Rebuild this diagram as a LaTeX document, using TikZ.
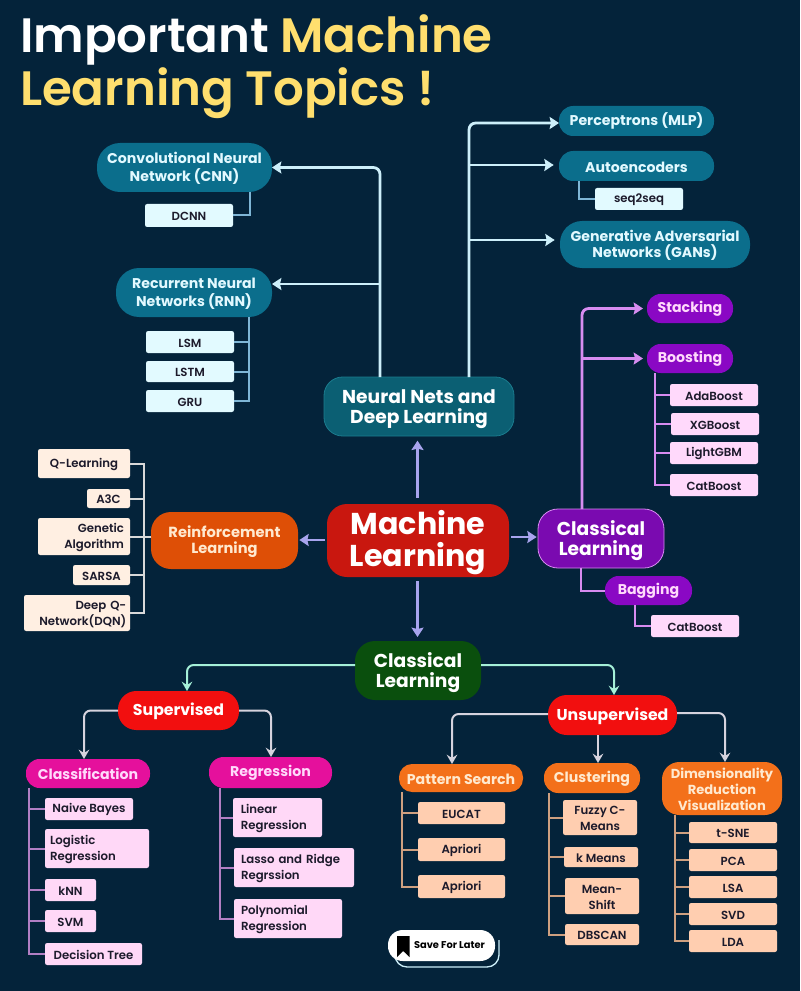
\documentclass[tikz,border=0pt]{standalone}
\usepackage{fontspec}
\setmainfont{Poppins}
\newfontfamily\semib{Poppins SemiBold}
\usetikzlibrary{arrows.meta}
\definecolor{bgc}{HTML}{04233A}
\definecolor{titley}{HTML}{FFDF6E}
\definecolor{tealc}{HTML}{0B6E8C}
\definecolor{tealt}{HTML}{E2F9FF}
\definecolor{lblue}{HTML}{E2FAFF}
\definecolor{lline}{HTML}{CDEFFA}
\definecolor{bline}{HTML}{7FB6D6}
\definecolor{nnc}{HTML}{0B5F73}
\definecolor{nnb}{HTML}{1B7C8E}
\definecolor{purp}{HTML}{8A08C4}
\definecolor{clp}{HTML}{7A0AB0}
\definecolor{purl}{HTML}{FFD9FB}
\definecolor{pline}{HTML}{D78CF0}
\definecolor{mlred}{HTML}{C9170F}
\definecolor{lav}{HTML}{A8A4EE}
\definecolor{rlc}{HTML}{DE4F06}
\definecolor{rlt}{HTML}{FFE9CF}
\definecolor{cream}{HTML}{FFEFE2}
\definecolor{gline}{HTML}{D9D9D9}
\definecolor{grn}{HTML}{0A4F0D}
\definecolor{mint}{HTML}{A5F0D8}
\definecolor{red2}{HTML}{F20F0F}
\definecolor{gl2}{HTML}{D6D3DE}
\definecolor{mag}{HTML}{E5109C}
\definecolor{pink}{HTML}{FFD8F7}
\definecolor{mline}{HTML}{B27FC4}
\definecolor{oran}{HTML}{F3701A}
\definecolor{peach}{HTML}{FFCEB0}
\definecolor{oline}{HTML}{CFA080}
\definecolor{ink}{HTML}{1C1A2B}
\newcommand{\nodelift}{\relax}
\tikzset{
  x=0.75pt,y=-0.75pt,
  lift/.code={\def\nodelift{\rule{0pt}{#1}}},
  base/.style={inner sep=0pt,outer sep=0pt,align=center},
  pill/.style={base,lift=9.3pt,rounded corners=\rr,font=\bfseries\fontsize{10.6}{13.5}\selectfont},
  leaf/.style={base,lift=8pt,rounded corners=1.6pt,text=ink,font=\semib\fontsize{8.8}{12}\selectfont},
  tealpill/.style={pill,fill=tealc,text=tealt},
  bluebox/.style={leaf,fill=lblue},
  purppill/.style={pill,fill=purp,text=purl},
  purpbox/.style={leaf,fill=purl},
  creambox/.style={leaf,fill=cream},
  magpill/.style={pill,fill=mag,text=purl},
  pinkbox/.style={leaf,fill=pink},
  redpill/.style={pill,lift=10.9pt,fill=red2,text=white,font=\bfseries\fontsize{11.8}{13}\selectfont},
  oranpill/.style={pill,fill=oran,text=rlt},
  peachbox/.style={leaf,fill=peach},
  arr/.style={line width=2.1pt,line join=round,rounded corners=5pt,-{Stealth[length=7pt,width=9pt,inset=1pt]}},
  thinarr/.style={line width=1.5pt,line join=round,rounded corners=5pt,-{Stealth[length=7pt,width=8pt,inset=2.5pt]}},
  brn/.style={line width=1.5pt,line join=miter},
  bigbox/.style={base,lift=13.8pt,font=\bfseries\fontsize{14}{14.8}\selectfont},
}
\newcommand{\bx}[7]{%
  \pgfmathsetlengthmacro\ww{(#5-#3)*0.75pt}%
  \pgfmathsetlengthmacro\hh{(#6-#4)*0.75pt}%
  \pgfmathsetlengthmacro\rr{min(\ww,\hh)*0.47}%
  \node (#1) [#2,minimum width=\ww,minimum height=\hh] at ({(#3+#5)/2},{(#4+#6)/2}) {\nodelift #7};}
\begin{document}
\begin{tikzpicture}
\useasboundingbox (0,0) rectangle (800,991);
\fill[bgc] (0,0) rectangle (800,991);
% Title
\node (t1) [base,anchor=base west,text=white,font=\fontsize{36.2}{40}\selectfont\semib] at (20,53) {Important \textcolor{titley}{Machine}};
\node (t2) [base,anchor=base west,text=titley,font=\fontsize{36.2}{40}\selectfont\semib] at (20,106) {Learning Topics !};
% Centre
\bx{ml}{base,lift=21pt,fill=mlred,text=white,rounded corners=15pt,font=\bfseries\fontsize{22.6}{24}\selectfont}{327}{504}{509}{577}{Machine\\Learning}
\bx{nn}{bigbox,fill=nnc,draw=nnb,line width=.6pt,text=white,rounded corners=14pt}{324}{377}{514}{436}{Neural Nets and\\Deep Learning}
\bx{cl}{bigbox,fill=clp,draw=pline,line width=.6pt,text=white,rounded corners=15pt}{538}{509}{664}{568}{Classical\\Learning}
\bx{rl}{base,lift=11.1pt,fill=rlc,text=rlt,rounded corners=15pt,font=\bfseries\fontsize{11}{12}\selectfont}{151}{512}{298}{569}{Reinforcement\\Learning}
\bx{gl}{bigbox,fill=grn,text=white,rounded corners=15pt}{355}{641}{481}{700}{Classical\\Learning}
% Neural
\bx{cnn}{tealpill}{97}{143}{272}{192}{Convolutional Neural\\Network (CNN)}
\bx{dcnn}{bluebox}{145}{204}{233}{227}{DCNN}
\bx{rnn}{tealpill}{116}{268}{272}{317}{Recurrent Neural\\Networks (RNN)}
\bx{lsm}{bluebox}{146}{331}{234}{353}{LSM}
\bx{lstm}{bluebox}{146}{361}{234}{382}{LSTM}
\bx{gru}{bluebox}{146}{390}{234}{412}{GRU}
\bx{mlp}{tealpill}{559}{106}{714}{136}{Perceptrons (MLP)}
\bx{ae}{tealpill}{559}{151}{714}{181}{Autoencoders}
\bx{s2s}{bluebox}{595}{188}{683}{210}{seq2seq}
\bx{gan}{tealpill,font=\bfseries\fontsize{10.6}{12}\selectfont}{560}{221}{750}{268}{Generative Adversarial\\Networks (GANs)}
\draw[arr,lline] (nn.north -| 380,0) |- (cnn.east);
\draw[arr,lline,rounded corners=0pt] (nn.north -| 380,0) |- (rnn.east |- 0,284);
\draw[arr,lline] (nn.north -| 469,0) |- (mlp.west |- 0,123);
\draw[arr,lline,rounded corners=0pt,shorten >=4pt] (nn.north -| 469,0) |- (ae.west |- 0,165);
\draw[arr,lline,rounded corners=0pt,shorten >=4pt] (nn.north -| 469,0) |- (gan.west |- 0,240);
\draw[brn,bline] (cnn.south -| 249.5,0) |- (dcnn.east);
\foreach \c in {lsm,lstm,gru} \draw[brn,bline] (rnn.south -| 249,0) |- (\c.east);
\draw[brn,bline] (ae.south -| 578.5,0) |- (s2s.west);
% Classical purple
\bx{stk}{purppill}{647}{294}{733}{323}{Stacking}
\bx{bst}{purppill}{647}{344}{733}{373}{Boosting}
\bx{ada}{purpbox}{670}{384}{758}{406}{AdaBoost}
\bx{xgb}{purpbox}{671}{413}{759}{435}{XGBoost}
\bx{lgb}{purpbox}{670}{442}{758}{464}{LightGBM}
\bx{cat}{purpbox}{670}{474}{758}{496}{CatBoost}
\bx{bag}{purppill}{605}{576}{692}{605}{Bagging}
\bx{cat2}{purpbox}{651}{615}{739}{637}{CatBoost}
\draw[arr,pline,shorten >=3pt] (cl.north -| 582,0) |- (stk.west);
\draw[arr,pline,rounded corners=0pt,shorten >=3pt] (cl.north -| 582,0) |- (bst.west);
\foreach \c in {ada,xgb,lgb,cat} \draw[brn,pline] (bst.south -| 655,0) |- (\c.west);
\draw[brn,pline] (cl.south -| 581,0) |- (bag.west);
\draw[brn,pline] (bag.south -| 635,0) |- (cat2.west);
% Main arrows
\draw[arr,lav,rounded corners=0pt,shorten >=3.5pt,shorten <=4.5pt] (ml.north -| 417.5,0) -- (nn.south -| 417.5,0);
\draw[arr,lav,rounded corners=0pt,shorten >=3pt,shorten <=3pt] (ml.south -| 417.5,0) -- (gl.north -| 417.5,0);
\draw[arr,lav,rounded corners=0pt,shorten >=1pt,shorten <=1.5pt] (ml.west |- 0,540) -- (rl.east |- 0,540);
\draw[arr,lav,rounded corners=0pt,shorten >=1pt,shorten <=1.5pt] (ml.east |- 0,537) -- (cl.west |- 0,537);
% Reinforcement
\bx{ql}{creambox}{38}{449}{130}{478}{Q-Learning}
\bx{a3c}{creambox}{87}{489}{130}{508}{A3C}
\bx{ga}{creambox,text width=60pt,align=right}{38}{518}{130}{555}{Genetic\\Algorithm}
\bx{sar}{creambox}{73}{565}{130}{585}{SARSA}
\bx{dqn}{creambox,text width=74pt,align=right}{24}{595}{130}{631}{Deep Q-\\Network(DQN)}
\foreach \c in {ql,a3c,ga,sar,dqn} \draw[brn,gline] (rl.west |- 144,537) -| (144,0 |- \c.east) -- (\c.east);
% Green
\bx{sup}{redpill}{118}{691}{239}{730}{Supervised}
\bx{uns}{redpill}{548}{695}{677}{735}{Unsupervised}
\draw[thinarr,mint] (gl.west |- 0,665) -| (sup.north -| 187,0);
\draw[thinarr,mint] (gl.east |- 0,665) -| (uns.north -| 614,0);
\bx{cls}{magpill}{26}{759}{150}{788}{Classification}
\bx{reg}{magpill}{209}{757}{332}{788}{Regression}
\draw[thinarr,gl2] (sup.west) -| (cls.north -| 84,0);
\draw[thinarr,gl2] (sup.east) -| (reg.north -| 271,0);
\bx{nb}{pinkbox}{45}{798}{133}{820}{Naive Bayes}
\bx{lr}{pinkbox,text width=70.5pt,align=left}{45}{829}{149}{868}{Logistic\\Regression}
\bx{knn}{pinkbox}{45}{879}{96}{901}{kNN}
\bx{svm}{pinkbox}{45}{910}{96}{932}{SVM}
\bx{dt}{pinkbox}{45}{943}{142}{965}{Decision Tree}
\bx{lin}{pinkbox,text width=55pt,align=left}{233}{798}{322}{837}{Linear\\Regression}
\bx{las}{pinkbox,text width=79.5pt,align=left}{234}{848}{354}{887}{Lasso and Ridge\\Regrssion}
\bx{pol}{pinkbox,text width=70.5pt,align=left}{234}{899}{342}{938}{Polynomial\\Regression}
\foreach \c in {nb,lr,knn,svm,dt} \draw[brn,mline] (cls.south -| 29,0) |- (\c.west);
\foreach \c in {lin,las,pol} \draw[brn,mline] (reg.south -| 220,0) |- (\c.west);
% Unsupervised
\bx{pat}{oranpill}{399}{764}{523}{792}{Pattern Search}
\bx{clu}{oranpill}{544}{763}{640}{793}{Clustering}
\bx{dim}{oranpill,rounded corners=13pt,font=\bfseries\fontsize{9.8}{12}\selectfont}{662}{762}{782}{815}{Dimensionality\\Reduction\\Visualization}
\draw[thinarr,gl2] (uns.west |- 0,714) -| (pat.north -| 452,0);
\draw[thinarr,gl2,rounded corners=0pt] (uns.south -| 598,0) -- (clu.north -| 598,0);
\draw[thinarr,gl2] (uns.east |- 0,713) -| (dim.north -| 725,0);
\bx{euc}{peachbox}{418}{802}{505}{824}{EUCAT}
\bx{apr}{peachbox}{418}{838}{505}{861}{Apriori}
\bx{apr2}{peachbox}{418}{875}{505}{898}{Apriori}
\bx{fuz}{peachbox}{563}{800}{637}{835}{Fuzzy C-\\Means}
\bx{km}{peachbox}{564}{847}{638}{867}{k Means}
\bx{msh}{peachbox}{565}{878}{639}{914}{Mean-\\Shift}
\bx{dbs}{peachbox}{565}{924}{639}{945}{DBSCAN}
\bx{tsn}{peachbox}{689}{822}{777}{843}{t-SNE}
\bx{pca}{peachbox}{689}{849}{777}{871}{PCA}
\bx{lsa}{peachbox}{689}{876}{777}{898}{LSA}
\bx{svd}{peachbox}{689}{903}{777}{925}{SVD}
\bx{lda}{peachbox}{689}{930}{777}{952}{LDA}
\foreach \c in {euc,apr,apr2} \draw[brn,oline] (pat.south -| 402,0) |- (\c.west);
\foreach \c in {fuz,km,msh,dbs} \draw[brn,oline] (clu.south -| 549,0) |- (\c.west);
\foreach \c in {tsn,pca,lsa,svd,lda} \draw[brn,oline] (dim.south -| 675,0) |- (\c.west);
% Save for later
\draw[lline,line width=1pt,rounded corners=9pt] (395,950) -- (395,967) -- (499,967) -- (499,940);
\fill[white,rounded corners=11pt] (388,930) rectangle (495,961);
\fill[black] (397,936) -- (409.5,936) -- (409.5,957) -- (403.2,951) -- (397,957) -- cycle;
\node (sv) [base,anchor=west,text=black,font=\bfseries\fontsize{7.4}{8}\selectfont] at (414,945) {Save For Later};
\end{tikzpicture}
\end{document}
